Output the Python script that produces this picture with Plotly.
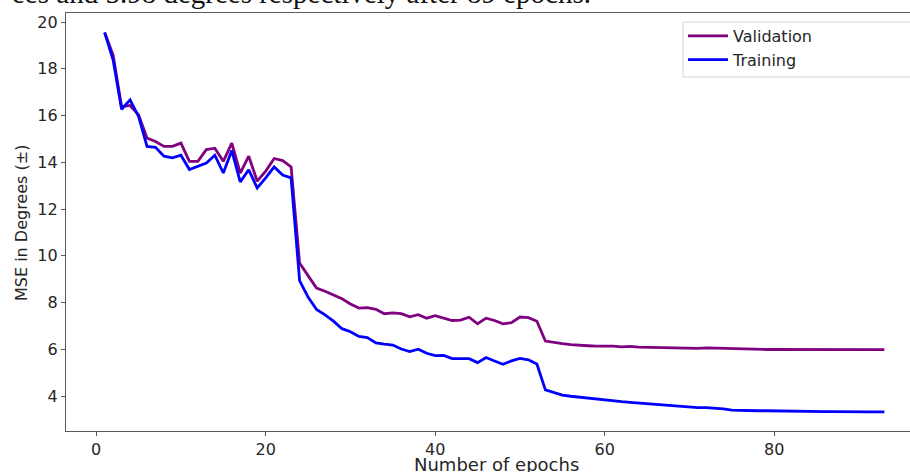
import plotly.graph_objects as go

epochs = list(range(1, 94))

validation = [
    19.55, 18.58, 16.38, 16.43, 16.03, 15.03, 14.89, 14.68, 14.68, 14.82,
    14.04, 14.04, 14.54, 14.60, 14.04, 14.82, 13.54, 14.26, 13.19, 13.62,
    14.16, 14.07, 13.80, 9.69, 9.15, 8.62, 8.48, 8.33, 8.16, 7.94,
    7.76, 7.78, 7.71, 7.52, 7.56, 7.52, 7.39, 7.48, 7.33, 7.44,
    7.33, 7.23, 7.25, 7.37, 7.09, 7.33, 7.23, 7.09, 7.14, 7.38,
    7.35, 7.20, 6.35, 6.28, 6.24, 6.20, 6.19, 6.15, 6.13, 6.14,
    6.13, 6.10, 6.12, 6.09, 6.08, 6.08, 6.07, 6.07, 6.07, 6.04,
    6.04, 6.06, 6.05, 6.04, 6.00, 5.99, 5.99, 5.99, 5.99, 5.99,
    5.99, 5.99, 5.98, 5.98, 5.98, 5.98, 5.98, 5.98, 5.98, 5.98,
    5.98, 5.98, 5.98,
]

training = [
    19.55, 18.37, 16.27, 16.67, 15.96, 14.68, 14.64, 14.26, 14.19, 14.30,
    13.69, 13.83, 13.97, 14.30, 13.54, 14.50, 13.16, 13.68, 12.90, 13.33,
    13.80, 13.45, 13.33, 8.94, 8.23, 7.70, 7.47, 7.20, 6.88, 6.75,
    6.55, 6.50, 6.27, 6.22, 6.18, 6.01, 5.90, 6.00, 5.83, 5.73,
    5.74, 5.60, 5.60, 5.60, 5.43, 5.65, 5.50, 5.36, 5.50, 5.61,
    5.55, 5.37, 4.26, 4.14, 4.04, 3.99, 3.95, 3.89, 3.85, 3.82,
    3.79, 3.76, 3.73, 3.70, 3.66, 3.64, 3.62, 3.59, 3.56, 3.53,
    3.50, 3.50, 3.48, 3.45, 3.40, 3.38, 3.38, 3.37, 3.37, 3.36,
    3.36, 3.35, 3.35, 3.34, 3.34, 3.33, 3.33, 3.32, 3.32, 3.32,
    3.32, 3.32, 3.32,
]

x_ticks = [0, 20, 40, 60, 80]
y_ticks = [4, 6, 8, 10, 12, 14, 16, 18, 20]

caption = "ees and 5.98 degrees respectively after 89 epochs."

W, H = 910, 472
L, R, T, B = 66, 0, 13, 41
pw = W - L - R
ph = H - T - B

def px_x(p):
    return (p - L) / pw

def px_y(p):
    return (H - B - p) / ph

fig = go.Figure()
fig.add_trace(go.Scatter(x=epochs, y=validation, mode="lines", name="Validation",
                         line=dict(color="#800080", width=2.8)))
fig.add_trace(go.Scatter(x=epochs, y=training, mode="lines", name="Training",
                         line=dict(color="#0000ff", width=2.8)))

axis_col = "#5a5a5a"
tick_font = dict(family="DejaVu Sans", size=16, color="#262626")

fig.update_layout(
    width=W, height=H,
    margin=dict(l=L, r=R, t=T, b=B, pad=0),
    paper_bgcolor="white", plot_bgcolor="white",
    showlegend=True,
    legend=dict(x=px_x(683), y=px_y(19), xanchor="left", yanchor="top",
                bgcolor="rgba(0,0,0,0)", borderwidth=0,
                font=dict(family="DejaVu Sans", size=16, color="#262626"),
                itemwidth=40, tracegroupgap=0),
    xaxis=dict(range=[-3.56, 96.02], tickmode="array", tickvals=x_ticks,
               showgrid=False, zeroline=False, showline=True, linecolor=axis_col,
               linewidth=1.3, mirror=True, ticks="outside", ticklen=4, tickwidth=1,
               tickcolor=axis_col, tickfont=tick_font, automargin=False),
    yaxis=dict(range=[2.503, 20.385], tickmode="array", tickvals=y_ticks,
               showgrid=False, zeroline=False, showline=True, linecolor=axis_col,
               linewidth=1.3, ticks="outside", ticklen=4, tickwidth=1,
               tickcolor=axis_col, tickfont=tick_font, automargin=False),
)

# legend frame (extends past the cropped right edge, as in the reference)
fig.add_shape(type="rect", xref="paper", yref="paper", layer="above",
              x0=px_x(683), x1=px_x(916), y0=px_y(77), y1=px_y(22),
              line=dict(color="#d4d4d4", width=1), fillcolor="white")

fig.add_annotation(text="Number of epochs", xref="paper", yref="paper",
                   x=px_x(496), y=px_y(452), xanchor="center", yanchor="top",
                   showarrow=False,
                   font=dict(family="DejaVu Sans", size=18, color="#262626"))
fig.add_annotation(text="MSE in Degrees (±)", xref="paper", yref="paper",
                   x=px_x(21), y=px_y(223), xanchor="center", yanchor="middle",
                   textangle=-90, showarrow=False,
                   font=dict(family="DejaVu Sans", size=16, color="#262626"))
fig.add_annotation(text=caption, xref="paper", yref="paper",
                   x=px_x(593), y=px_y(11), xanchor="right", yanchor="bottom",
                   showarrow=False,
                   font=dict(family="Liberation Serif", size=29, color="#111111"))

fig.write_html("out.html", config={"displayModeBar": False},
               post_script="document.body.style.margin='0';document.body.style.overflow='hidden';")
